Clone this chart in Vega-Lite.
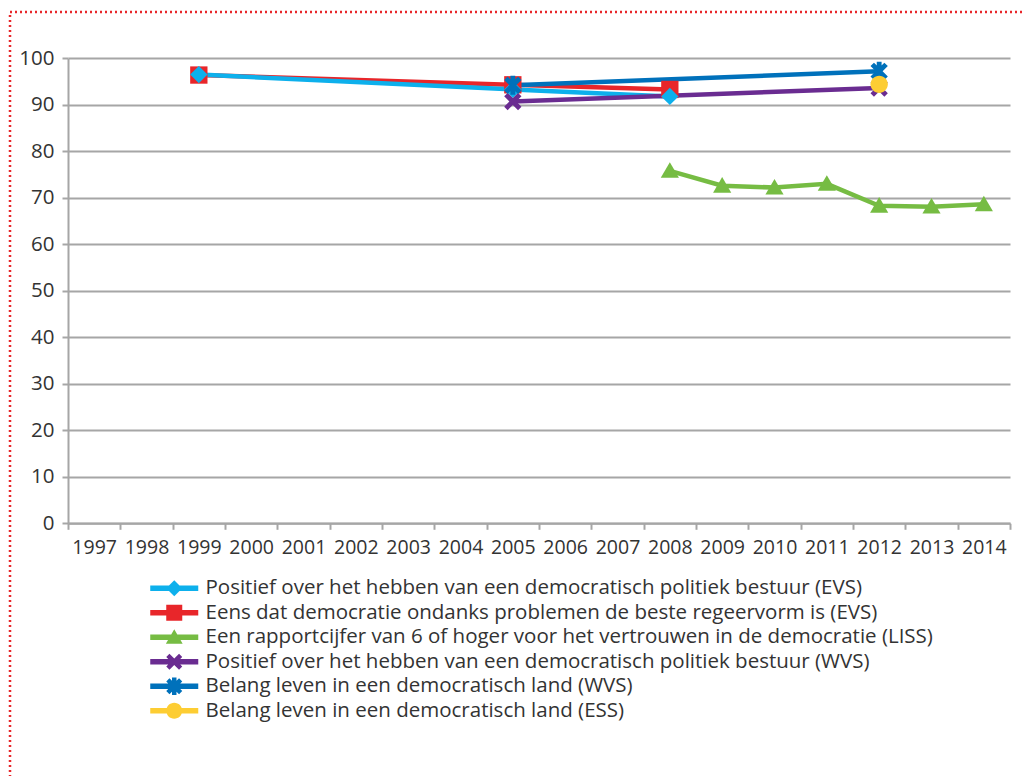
{
  "$schema": "https://vega.github.io/schema/vega-lite/v6.json",
  "width": 1014,
  "height": 766,
  "autosize": {"type": "none"},
  "padding": {"left": 10, "top": 12, "right": -2, "bottom": -2},
  "background": "white",
  "config": {
    "view": {"stroke": "#e8262a", "strokeDash": [2, 3], "strokeWidth": 2.5},
    "font": "Open Sans"
  },
  "data": {
    "values": [
      {"series": "Eens dat democratie ondanks problemen de beste regeervorm is (EVS)", "year": 1999, "value": 96.4},
      {"series": "Eens dat democratie ondanks problemen de beste regeervorm is (EVS)", "year": 2005, "value": 94.3},
      {"series": "Eens dat democratie ondanks problemen de beste regeervorm is (EVS)", "year": 2008, "value": 93.3},
      {"series": "Positief over het hebben van een democratisch politiek bestuur (EVS)", "year": 1999, "value": 96.5},
      {"series": "Positief over het hebben van een democratisch politiek bestuur (EVS)", "year": 2005, "value": 93.3},
      {"series": "Positief over het hebben van een democratisch politiek bestuur (EVS)", "year": 2008, "value": 91.8},
      {"series": "Een rapportcijfer van 6 of hoger voor het vertrouwen in de democratie (LISS)", "year": 2008, "value": 75.8},
      {"series": "Een rapportcijfer van 6 of hoger voor het vertrouwen in de democratie (LISS)", "year": 2009, "value": 72.6},
      {"series": "Een rapportcijfer van 6 of hoger voor het vertrouwen in de democratie (LISS)", "year": 2010, "value": 72.2},
      {"series": "Een rapportcijfer van 6 of hoger voor het vertrouwen in de democratie (LISS)", "year": 2011, "value": 73.0},
      {"series": "Een rapportcijfer van 6 of hoger voor het vertrouwen in de democratie (LISS)", "year": 2012, "value": 68.3},
      {"series": "Een rapportcijfer van 6 of hoger voor het vertrouwen in de democratie (LISS)", "year": 2013, "value": 68.1},
      {"series": "Een rapportcijfer van 6 of hoger voor het vertrouwen in de democratie (LISS)", "year": 2014, "value": 68.6},
      {"series": "Positief over het hebben van een democratisch politiek bestuur (WVS)", "year": 2005, "value": 90.7},
      {"series": "Positief over het hebben van een democratisch politiek bestuur (WVS)", "year": 2012, "value": 93.6},
      {"series": "Belang leven in een democratisch land (WVS)", "year": 2005, "value": 94.2},
      {"series": "Belang leven in een democratisch land (WVS)", "year": 2012, "value": 97.2},
      {"series": "Belang leven in een democratisch land (ESS)", "year": 2012, "value": 94.4}
    ]
  },
  "encoding": {
    "x": {
      "field": "year",
      "type": "ordinal",
      "scale": {
        "type": "band",
        "domain": [1997, 1998, 1999, 2000, 2001, 2002, 2003, 2004, 2005, 2006, 2007, 2008, 2009, 2010, 2011, 2012, 2013, 2014],
        "range": [58, 1000],
        "paddingInner": 0,
        "paddingOuter": 0
      },
      "axis": {
        "title": null,
        "orient": "bottom",
        "offset": -254.7,
        "tickBand": "extent",
        "grid": false,
        "labelAngle": 0,
        "labelFontSize": 19.5,
        "labelColor": "#333333",
        "labelPadding": 9,
        "tickSize": 6,
        "tickWidth": 2,
        "tickColor": "#a6a6a6",
        "domainColor": "#a6a6a6",
        "domainWidth": 2
      }
    },
    "y": {
      "field": "value",
      "type": "quantitative",
      "scale": {"domain": [0, 100], "range": [511.3, 46.3], "nice": false},
      "axis": {
        "title": null,
        "orient": "left",
        "offset": -58,
        "values": [0, 10, 20, 30, 40, 50, 60, 70, 80, 90, 100],
        "grid": true,
        "gridColor": "#a6a6a6",
        "gridWidth": 2,
        "domainColor": "#a6a6a6",
        "domainWidth": 2,
        "tickColor": "#a6a6a6",
        "tickWidth": 2,
        "tickSize": 6,
        "labelFontSize": 20.5,
        "labelColor": "#333333",
        "labelPadding": 8
      }
    },
    "color": {
      "field": "series",
      "type": "nominal",
      "scale": {
        "domain": [
          "Positief over het hebben van een democratisch politiek bestuur (EVS)",
          "Eens dat democratie ondanks problemen de beste regeervorm is (EVS)",
          "Een rapportcijfer van 6 of hoger voor het vertrouwen in de democratie (LISS)",
          "Positief over het hebben van een democratisch politiek bestuur (WVS)",
          "Belang leven in een democratisch land (WVS)",
          "Belang leven in een democratisch land (ESS)"
        ],
        "range": ["#0db0ec", "#e8262a", "#76bc43", "#6a2c91", "#0071bb", "#fdcd33"]
      },
      "legend": {
        "orient": "none",
        "legendX": 154,
        "legendY": 566,
        "direction": "vertical",
        "title": null,
        "padding": 0,
        "symbolSize": 256,
        "symbolStrokeWidth": 0,
        "symbolOpacity": 1,
        "labelFontSize": 20.5,
        "labelColor": "#333333",
        "labelOffset": 21,
        "labelLimit": 1000,
        "rowPadding": 3.5
      }
    }
  },
  "layer": [
    {
      "mark": {"type": "line", "strokeWidth": 4.5}
    },
    {
      "transform": [{"filter": {"field": "series", "equal": "Eens dat democratie ondanks problemen de beste regeervorm is (EVS)"}}],
      "mark": {"type": "point", "filled": true, "opacity": 1, "size": 300, "strokeWidth": 0, "shape": "M-1,-1H1V1H-1Z"}
    },
    {
      "transform": [{"filter": {"field": "series", "equal": "Positief over het hebben van een democratisch politiek bestuur (EVS)"}}],
      "mark": {"type": "point", "filled": true, "opacity": 1, "size": 300, "strokeWidth": 0, "shape": "M0,-1L1,0L0,1L-1,0Z"}
    },
    {
      "transform": [{"filter": {"field": "series", "equal": "Een rapportcijfer van 6 of hoger voor het vertrouwen in de democratie (LISS)"}}],
      "mark": {"type": "point", "filled": true, "opacity": 1, "size": 300, "strokeWidth": 0, "shape": "M0,-1L1.05,0.8H-1.05Z"}
    },
    {
      "transform": [{"filter": {"field": "series", "equal": "Positief over het hebben van een democratisch politiek bestuur (WVS)"}}],
      "mark": {"type": "point", "filled": true, "opacity": 1, "size": 300, "strokeWidth": 0, "shape": "M-1,-0.6L-0.6,-1L0,-0.4L0.6,-1L1,-0.6L0.4,0L1,0.6L0.6,1L0,0.4L-0.6,1L-1,0.6L-0.4,0Z"}
    },
    {
      "transform": [{"filter": {"field": "series", "equal": "Belang leven in een democratisch land (WVS)"}}],
      "mark": {"type": "point", "filled": true, "opacity": 1, "size": 300, "strokeWidth": 0, "shape": "M-1,-0.6L-0.6,-1L0,-0.4L0.6,-1L1,-0.6L0.4,0L1,0.6L0.6,1L0,0.4L-0.6,1L-1,0.6L-0.4,0Z M-0.28,-1.1H0.28V1.1H-0.28Z"}
    },
    {
      "transform": [{"filter": {"field": "series", "equal": "Belang leven in een democratisch land (ESS)"}}],
      "mark": {"type": "point", "filled": true, "opacity": 1, "size": 300, "strokeWidth": 0, "shape": "M-1,0A1,1,0,1,1,1,0A1,1,0,1,1,-1,0Z"}
    },
    {
      "transform": [{"filter": "datum.value > 1000"}],
      "mark": {"type": "point", "filled": true, "opacity": 1, "size": 256, "strokeWidth": 0},
      "encoding": {
        "shape": {
          "field": "series",
          "type": "nominal",
          "scale": {
            "domain": [
              "Positief over het hebben van een democratisch politiek bestuur (EVS)",
              "Eens dat democratie ondanks problemen de beste regeervorm is (EVS)",
              "Een rapportcijfer van 6 of hoger voor het vertrouwen in de democratie (LISS)",
              "Positief over het hebben van een democratisch politiek bestuur (WVS)",
              "Belang leven in een democratisch land (WVS)",
              "Belang leven in een democratisch land (ESS)"
            ],
            "range": [
              "M-3,-0.35H3V0.35H-3Z M0,-1L1,0L0,1L-1,0Z",
              "M-3,-0.35H3V0.35H-3Z M-1,-1H1V1H-1Z",
              "M-3,-0.35H3V0.35H-3Z M0,-1L1.05,0.8H-1.05Z",
              "M-3,-0.35H3V0.35H-3Z M-1,-0.6L-0.6,-1L0,-0.4L0.6,-1L1,-0.6L0.4,0L1,0.6L0.6,1L0,0.4L-0.6,1L-1,0.6L-0.4,0Z",
              "M-3,-0.35H3V0.35H-3Z M-1,-0.6L-0.6,-1L0,-0.4L0.6,-1L1,-0.6L0.4,0L1,0.6L0.6,1L0,0.4L-0.6,1L-1,0.6L-0.4,0Z M-0.28,-1.1H0.28V1.1H-0.28Z",
              "M-3,-0.35H3V0.35H-3Z M-1,0A1,1,0,1,1,1,0A1,1,0,1,1,-1,0Z"
            ]
          }
        }
      }
    }
  ]
}
